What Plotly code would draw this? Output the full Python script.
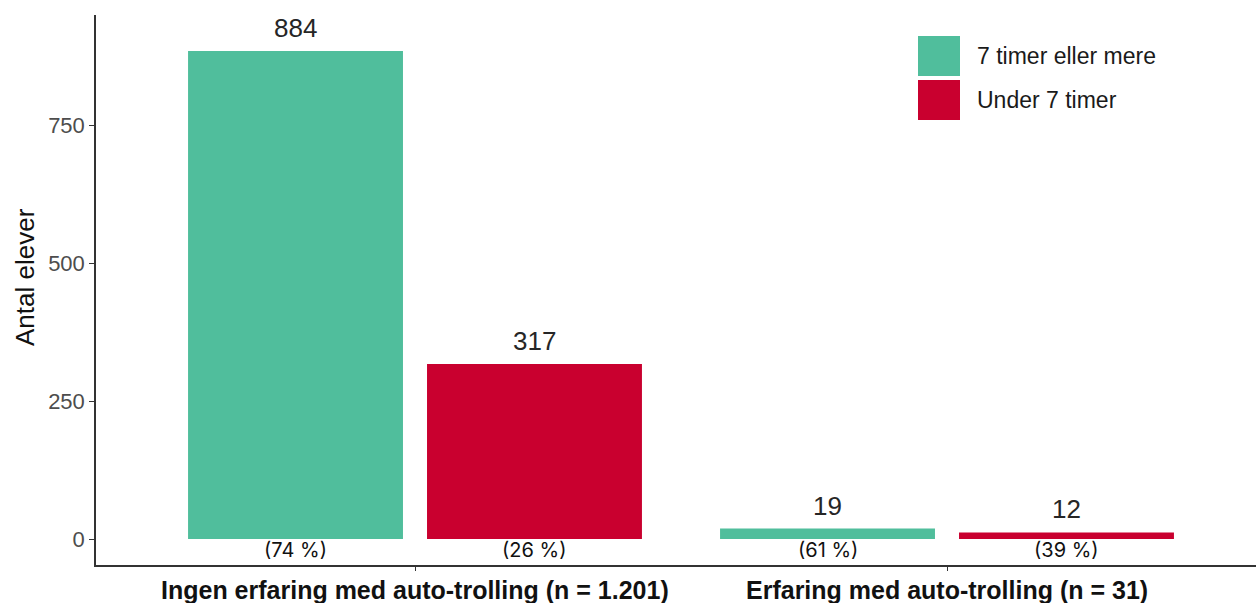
import plotly.graph_objects as go

# ---- data ----
categories = ["Ingen erfaring med auto-trolling (n = 1.201)", "Erfaring med auto-trolling (n = 31)"]
series_names = ["7 timer eller mere", "Under 7 timer"]
values_7plus = [884, 19]
values_under7 = [317, 12]
pct_7plus = ["(74 %)", "(61 %)"]
pct_under7 = ["(26 %)", "(39 %)"]
y_ticks = [0, 250, 500, 750]
y_title = "Antal elever"

# ---- style ----
colors = ["#50BE9C", "#C9002F"]
offsets = [-0.2246, 0.2246]
bar_width = 0.404
W, H = 1256, 603
ml, mr, mt, mb = 96, 0, 15, 38
pw, ph = W - ml - mr, H - mt - mb

series_vals = [values_7plus, values_under7]
series_pct = [pct_7plus, pct_under7]

fig = go.Figure()
annotations = []
for s, name in enumerate(series_names):
    xs = [i + offsets[s] for i in range(len(categories))]
    fig.add_trace(go.Bar(
        x=xs, y=series_vals[s], width=bar_width, name=name,
        marker=dict(color=colors[s], line=dict(width=0)), showlegend=False,
    ))
    for x, v, p in zip(xs, series_vals[s], series_pct[s]):
        annotations.append(dict(x=x, y=v, xref="x", yref="y", text=str(v), showarrow=False,
                                yanchor="bottom", yshift=6,
                                font=dict(family="Liberation Sans, Arial", size=26, color="#262626")))
        annotations.append(dict(x=x, y=0, xref="x", yref="y", text=p, showarrow=False,
                                yanchor="middle", yshift=-11,
                                font=dict(family="Inter, Lato, sans-serif", size=20, color="#111111")))

# manual legend (large square keys like the reference)
def px_x(px):
    return (px - ml) / pw

def px_y(py):
    return (H - mb - py) / ph

shapes = []
legend_rows = [(36, 76), (80, 120)]
for s, name in enumerate(series_names):
    y0, y1 = legend_rows[s]
    shapes.append(dict(type="rect", xref="paper", yref="paper",
                       x0=px_x(918), x1=px_x(960), y0=px_y(y1), y1=px_y(y0),
                       fillcolor=colors[s], line=dict(width=0)))
    annotations.append(dict(x=px_x(975), y=px_y((y0 + y1) / 2), xref="paper", yref="paper",
                            text=name, showarrow=False, xanchor="left", yanchor="middle",
                            font=dict(family="Liberation Sans, Arial", size=23, color="#1a1a1a")))

# category labels (as text placed under each category tick)
for i, c in enumerate(categories):
    annotations.append(dict(x=i, y=px_y(590), xref="x", yref="paper", text="<b>" + c + "</b>",
                            showarrow=False, xanchor="center", yanchor="middle",
                            font=dict(family="Liberation Sans, Arial", size=25, color="#111111")))

# y-axis title
annotations.append(dict(x=px_x(25), y=px_y(277), xref="paper", yref="paper", text=y_title,
                        textangle=-90, showarrow=False, xanchor="center", yanchor="middle",
                        font=dict(family="Liberation Sans, Arial", size=26, color="#111111")))

px_per_unit = 532
x0 = -(415 - ml) / px_per_unit
x1 = x0 + pw / px_per_unit
val_per_px = 250 / 138
y_top = (539 - mt) * val_per_px
y_bot = -(H - mb - 539) * val_per_px

fig.update_layout(
    width=W, height=H,
    margin=dict(l=ml, r=mr, t=mt, b=mb, autoexpand=False),
    plot_bgcolor="white", paper_bgcolor="white",
    annotations=annotations, shapes=shapes,
    xaxis=dict(
        range=[x0, x1], tickmode="array", tickvals=list(range(len(categories))),
        showticklabels=False,
        showgrid=False, zeroline=False, showline=True, linecolor="#333333", linewidth=1.5,
        ticks="outside", ticklen=4, tickcolor="#333333", tickwidth=1, automargin=False,
    ),
    yaxis=dict(
        range=[y_bot, y_top], tickmode="array", tickvals=y_ticks,
        tickfont=dict(family="Liberation Sans, Arial", size=22, color="#4d4d4d"),
        showgrid=False, zeroline=False, showline=True, linecolor="#333333", linewidth=1.5,
        ticks="outside", ticklen=5, tickcolor="#333333", tickwidth=1, automargin=False,
    ),
)

fig.write_html(
    "out.html",
    config={"displayModeBar": False},
    post_script="document.body.style.margin='0';document.body.style.overflow='hidden';",
)
